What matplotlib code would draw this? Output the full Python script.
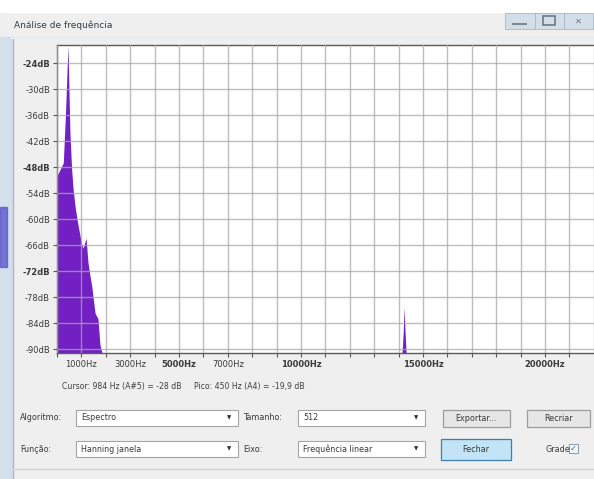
import matplotlib
matplotlib.use("Agg")
import matplotlib.pyplot as plt
import numpy as np
from matplotlib.patches import Rectangle

# spectrum values (Hz, dB)
low_freq = [0, 86, 172, 258, 345, 450, 530, 600, 660, 740, 820, 900, 1000,
            1070, 1190, 1270, 1350, 1430, 1500, 1560, 1680, 1760, 1850]
low_db = [-50, -49, -48, -47, -36, -19.9, -40, -48.5, -53, -57, -60, -62.5,
          -65.5, -66.7, -64.4, -70, -73, -75.7, -79, -81.7, -83, -89, -91]
tone_freq = [14140, 14190, 14227, 14265, 14310]
tone_db = [-91, -86, -80.3, -86, -91]

db_ticks = [-24, -30, -36, -42, -48, -54, -60, -66, -72, -78, -84, -90]
bold_db = [-24, -48, -72]
freq_labels = [1000, 3000, 5000, 7000, 10000, 15000, 20000]
bold_freqs = [5000, 10000, 15000, 20000]

title = "Análise de frequência"
cursor_text = "Cursor: 984 Hz (A#5) = -28 dB     Pico: 450 Hz (A4) = -19,9 dB"

PURPLE = "#7220c4"
W, H = 594, 479

fig = plt.figure(figsize=(W / 100, H / 100), dpi=100)

# window chrome, drawn in pixel coordinates
bg = fig.add_axes([0, 0, 1, 1])
bg.set_xlim(0, W)
bg.set_ylim(H, 0)
bg.axis("off")
bg.add_patch(Rectangle((0, 0), W, H, color="#efefef"))
bg.add_patch(Rectangle((0, 0), W, 12, color="white"))
grad = np.linspace(0, 1, 256).reshape(1, -1)
bg.imshow(grad, extent=(0, W, 37, 12), aspect="auto",
          cmap=matplotlib.colors.LinearSegmentedColormap.from_list(
              "tb", ["#bfcfd4", "#c6d7e6", "#bcd2e6"]))
bg.add_patch(Rectangle((0, 37), 12, H - 37, color="#d3e0ec"))
bg.add_patch(Rectangle((0, 207), 7, 60, color="#5a58cc", alpha=0.8))
bg.plot([12.5, 12.5], [37, H], color="#a9b8c6", lw=1)
bg.plot([12, W], [37.5, 37.5], color="#e6edf3", lw=1.5)
bg.text(14, 25, title, fontsize=6.5, color="#2e3e48", va="center")

# title bar buttons
for x0, x1 in [(505, 535), (535, 564), (564, 593)]:
    bg.add_patch(Rectangle((x0, 13), x1 - x0, 16, facecolor="#d2dfe9",
                           edgecolor="#a8b8c6", lw=0.6))
bg.plot([513, 526], [24, 24], color="#7c8a96", lw=1.5)
bg.add_patch(Rectangle((543, 16), 12, 9, facecolor="none",
                       edgecolor="#6d7b87", lw=1.2))
bg.text(578, 21, "✕", fontsize=6, color="#6d7b87", ha="center", va="center")

bg.text(62, 386, cursor_text, fontsize=5.6, color="#404040", va="center")

font = dict(fontsize=5.8, color="#3a3a3a", va="center")


def combo(x0, x1, yc, text):
    bg.add_patch(Rectangle((x0, yc - 8), x1 - x0, 16, facecolor="white",
                           edgecolor="#a5a5a5", lw=0.8))
    bg.text(x0 + 5, yc, text, **font)
    bg.text(x1 - 9, yc, "▼", fontsize=4, color="#303030",
            ha="center", va="center")


def button(x0, x1, y0, y1, text, face, edge):
    bg.add_patch(Rectangle((x0, y0), x1 - x0, y1 - y0, facecolor=face,
                           edgecolor=edge, lw=0.9))
    bg.text((x0 + x1) / 2, (y0 + y1) / 2, text, ha="center", **font)


bg.text(20, 418, "Algoritmo:", **font)
bg.text(20, 449, "Função:", **font)
bg.text(243, 418, "Tamanho:", **font)
bg.text(243, 449, "Eixo:", **font)
combo(76, 238, 418, "Espectro")
combo(76, 238, 449, "Hanning janela")
combo(298, 425, 418, "512")
combo(298, 425, 449, "Frequência linear")
button(443, 510, 410, 427, "Exportar...", "#e6e6e6", "#9c9c9c")
button(527, 590, 410, 427, "Recriar", "#e6e6e6", "#9c9c9c")
button(441, 511, 439, 460, "Fechar", "#c2e4f6", "#3d7fb3")
bg.text(545, 449, "Grade", **font)
bg.add_patch(Rectangle((569, 444), 9, 9, facecolor="#f6f9fc",
                       edgecolor="#8e99a5", lw=0.7))
bg.text(573.5, 448.5, "✓", fontsize=6, color="#4b6a8c",
        ha="center", va="center")
bg.plot([13, W], [469, 469], color="#d4d4d4", lw=1)

# spectrum plot
x_left, x_right, y_top, y_bot = 57, 595, 45, 353
ax = fig.add_axes([x_left / W, (H - y_bot) / H,
                   (x_right - x_left) / W, (y_bot - y_top) / H])
ax.set_facecolor("white")
ax.set_xlim(0, 22050)
ax.set_ylim(-90.9, -19.8)

ax.fill_between(low_freq, low_db, -91, color=PURPLE, lw=0, zorder=1)
ax.fill_between(tone_freq, tone_db, -91, color=PURPLE, lw=0, zorder=1)

ax.set_yticks(db_ticks)
ax.set_yticklabels([f"{v}dB" for v in db_ticks])
xt = list(range(0, 22001, 1000))
ax.set_xticks(xt)
ax.set_xticklabels([f"{v}Hz" if v in freq_labels else "" for v in xt])
for lab, v in zip(ax.get_yticklabels(), db_ticks):
    if v in bold_db:
        lab.set_fontweight("bold")
for lab, v in zip(ax.get_xticklabels(), xt):
    if v in bold_freqs:
        lab.set_fontweight("bold")

ax.tick_params(axis="both", labelsize=6, colors="#555555", length=3,
               width=0.8, labelcolor="#3a3a3a", pad=2)
ax.set_axisbelow(False)
ax.grid(True, color="#a8a8a8", alpha=0.75, lw=1.0, zorder=2)
for side in ["left", "top", "bottom"]:
    ax.spines[side].set_color("#5a5a5a")
    ax.spines[side].set_linewidth(1)
ax.spines["right"].set_visible(False)

fig.savefig("out.png", dpi=100)
